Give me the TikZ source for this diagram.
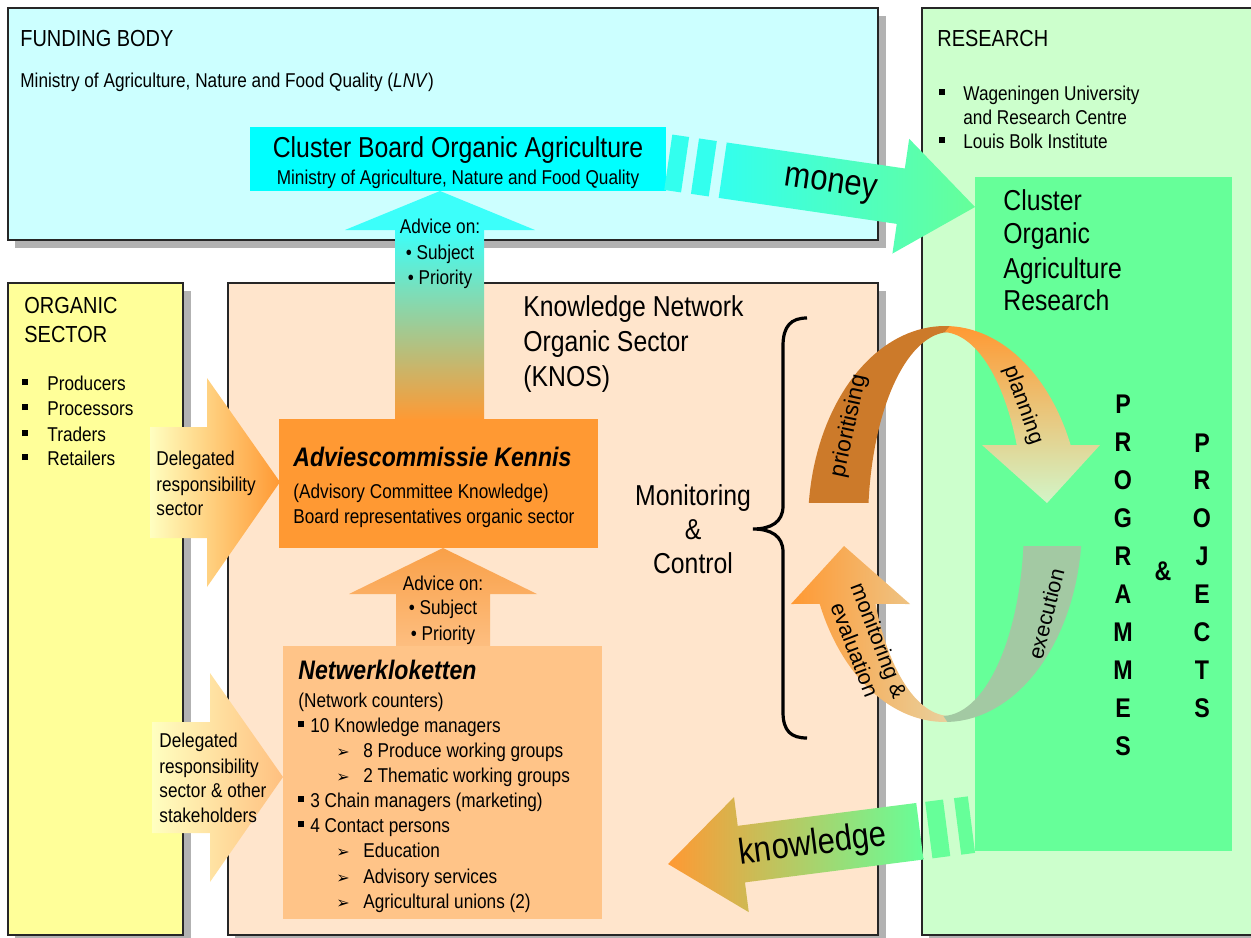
\documentclass[tikz,border=0pt]{standalone}
\usepackage{fontspec}
\setmainfont[FakeStretch=0.86]{Liberation Sans}
\newfontfamily\turnfont{Liberation Sans}
\newfontfamily\dingfont{DejaVu Sans}
\usetikzlibrary{calc}

\definecolor{fundcol}{HTML}{CCFFFF}
\definecolor{rescol}{HTML}{CCFFCC}
\definecolor{orgcol}{HTML}{FFFF99}
\definecolor{knoscol}{HTML}{FFE5CC}
\definecolor{boardcol}{HTML}{00FFFF}
\definecolor{advcol}{HTML}{FF9933}
\definecolor{netcol}{HTML}{FFC488}
\definecolor{clustercol}{HTML}{66FF99}
\definecolor{shadowcol}{HTML}{B2B2B2}
\definecolor{cyanhead}{HTML}{3CFFFA}
\definecolor{cyanmid}{HTML}{AAC8A0}
\definecolor{moneycol}{HTML}{33FFEE}
\definecolor{paleyellow}{HTML}{FFFFC0}
\definecolor{delegtip}{HTML}{FFC080}
\definecolor{advlow}{HTML}{F9A048}
\definecolor{advhigh}{HTML}{FDBE80}
\definecolor{prioricol}{HTML}{CC7A2A}
\definecolor{plancol}{HTML}{D2F5C8}
\definecolor{planmid}{HTML}{F0C080}
\definecolor{execcol}{HTML}{A3C9A3}
\definecolor{moncol}{HTML}{E8D2A0}

\newcommand{\fsnorm}{\fontsize{10}{12.5}\selectfont}
\newcommand{\fshead}{\fontsize{11.6}{14}\selectfont}
\newcommand{\fsbig}{\fontsize{14.4}{17}\selectfont}
\newcommand{\fstitle}{\fontsize{13.4}{16}\selectfont\bfseries\itshape}
\newcommand{\fsflow}{\fontsize{18}{21}\selectfont}
\newcommand{\fsletter}{\fontsize{13.5}{16}\selectfont\bfseries}
\newcommand{\fsturn}{\turnfont\fontsize{10.8}{13}\selectfont}
\newcommand{\sqbullet}{\rule[2.5pt]{3pt}{3pt}}
\newcommand{\arrbullet}{{\dingfont\fontsize{8}{8}\selectfont ➢}}

\tikzset{
  txt/.style={anchor=base west, inner sep=0pt, font=\fsnorm},
  headtxt/.style={txt, font=\fshead},
  bigtxt/.style={txt, font=\fsbig},
  flowtxt/.style={inner sep=0pt, font=\fsflow},
  turntxt/.style={inner sep=0pt, font=\fsturn, align=center},
  letter/.style={anchor=base, inner sep=0pt, font=\fsletter},
  panel/.style={draw=black!85, line width=0.7pt},
  panelshadow/.style={fill=shadowcol},
}

\begin{document}
\begin{tikzpicture}[x=0.5pt, y=-0.5pt]
    \useasboundingbox (0,0) rectangle (1251,937);

    % ---------------- Panels ----------------
    \foreach \xa/\ya/\xb/\yb in {8/8/878/240, 8/283/183/935, 228/283/878/935, 922/8/1262/935}
        \fill[panelshadow] (\xa+7,\ya+8) rectangle (\xb+8,\yb+8);
    \draw[panel, fill=fundcol] (8,8) rectangle (878,240);
    \draw[panel, fill=rescol] (922,8) rectangle (1262,935);
    \draw[panel, fill=orgcol] (8,283) rectangle (183,935);
    \draw[panel, fill=knoscol] (228,283) rectangle (878,935);

    \fill[clustercol] (975,177) rectangle (1232,851);
    \fill[boardcol] (250,127) rectangle (666,191);

    % ---------------- Advice arrows ----------------
    \fill[cyanhead] (345,230) -- (440,191) -- (535,230) -- cycle;
    \shade[top color=cyanhead, middle color=cyanmid, bottom color=advcol] (395,230) rectangle (484,420);
    \fill[advcol] (279,419) rectangle (598,548);
    \shade[top color=advlow, bottom color=advhigh]
        (349,594) -- (443,548) -- (537,594) -- (490,594) -- (490,646) -- (396,646) -- (396,594) -- cycle;
    \fill[netcol] (283,646) rectangle (602,919);

    % ---------------- Delegated arrows ----------------
    \shade[left color=paleyellow, right color=advcol]
        (150,427) -- (207,427) -- (207,378) -- (280,482) -- (207,587) -- (207,538) -- (150,538) -- cycle;
    \shade[left color=paleyellow, right color=delegtip]
        (152,722) -- (210,722) -- (210,673) -- (283,777) -- (210,882) -- (210,833) -- (152,833) -- cycle;

    % ---------------- Money arrow ----------------
    \begin{scope}[shift={(975,207)}, rotate=-8.3]
        \fill[moneycol] (-310,-28) rectangle (-293,28);
        \fill[moneycol] (-283,-28) rectangle (-265,28);
        \shade[left color=moneycol, right color=clustercol]
            (-255,-28) -- (-75,-28) -- (-75,-58) -- (0,0) -- (-75,58) -- (-75,28) -- (-255,28) -- cycle;
        \node[flowtxt, rotate=-8.3] (money) at (-146,0) {money};
    \end{scope}

    % ---------------- Knowledge arrow ----------------
    \begin{scope}[shift={(668,864)}, rotate=7.3]
        \fill[clustercol] (263,-29) rectangle (281,28);
        \fill[clustercol] (292,-29) rectangle (306,28);
        \shade[left color=advcol, right color=clustercol]
            (0,0) -- (74,-58) -- (74,-29) -- (254,-29) -- (254,28) -- (74,28) -- (74,58) -- cycle;
        \node[flowtxt, rotate=7.3] (knowledge) at (146,0) {knowledge};
    \end{scope}

    % ---------------- Cycle ----------------
    \fill[prioricol]
        plot[domain=186.1:272, samples=40, variable=\t] ({945+137*cos(\t)},{524+198*sin(\t)})
        -- plot[domain=272:186.3, samples=40, variable=\t] ({950+82*cos(\t)},{524+192*sin(\t)}) -- cycle;
    \shade[top color=advcol, middle color=planmid, bottom color=plancol]
        plot[domain=272:336.5, samples=30, variable=\t] ({945+137*cos(\t)},{524+198*sin(\t)})
        -- (1100,445) -- (1047,503) -- (982,445)
        -- plot[domain=335.7:272, samples=30, variable=\t] ({942+82*cos(\t)},{524+192*sin(\t)}) -- cycle;
    \shade[left color=advcol, right color=moncol]
        plot[domain=89:155.4, samples=30, variable=\t] ({950+82*cos(\t)},{524+192*sin(\t)})
        -- (910,604) -- (844,546) -- (791,604)
        -- plot[domain=156.2:89, samples=30, variable=\t] ({945+137*cos(\t)},{524+198*sin(\t)}) -- cycle;
    \fill[execcol]
        plot[domain=6.4:89, samples=30, variable=\t] ({945+137*cos(\t)},{524+198*sin(\t)})
        -- plot[domain=89:6.6, samples=30, variable=\t] ({942+82*cos(\t)},{524+192*sin(\t)}) -- cycle;

    \node[turntxt, font=\fsturn\fontsize{11.4}{13}\selectfont, rotate=77.8] (prio) at (849,426) {prioritising};
    \node[turntxt, rotate=-70.4] (plan) at (1023,405) {planning};
    \node[turntxt, rotate=76] (exec) at (1046,614) {execution};
    \node[turntxt, rotate=-69] (moni) at (867,645) {monitoring \&\\evaluation};

    % ---------------- Brace ----------------
    \draw[line width=1.6pt] (807,318) .. controls (791,318) and (783,326) .. (783,346)
        -- (783,506) .. controls (783,522) and (771,529) .. (753,529)
        .. controls (771,529) and (783,536) .. (783,552)
        -- (783,712) .. controls (783,731) and (791,738) .. (807,738);
    \foreach \y/\line [count=\i] in {505/Monitoring, 539/\&, 573/Control}
        \node[bigtxt, anchor=base] (mc-\i) at (693,\y) {\line};

    % ---------------- Funding body ----------------
    \node[headtxt] (fundtitle) at (20,46) {FUNDING BODY};
    \node[txt] (fundmin) at (20,87) {Ministry of Agriculture, Nature and Food Quality (\textit{LNV})};
    \node[bigtxt, anchor=base] (boardtitle) at (458,157) {Cluster Board Organic Agriculture};
    \node[txt, anchor=base] (boardmin) at (458,184) {Ministry of Agriculture, Nature and Food Quality};
    \foreach \y/\line [count=\i] in {233/Advice on:, 259/• Subject, 284/• Priority}
        \node[txt, anchor=base] (advup-\i) at (440,\y) {\line};

    % ---------------- Research ----------------
    \node[headtxt] (restitle) at (937,46) {RESEARCH};
    \node[txt] (resb-1) at (939,100) {\sqbullet};
    \node[txt] (resb-2) at (939,148) {\sqbullet};
    \foreach \y/\line [count=\i] in {100/Wageningen University, 124/and Research Centre, 148/Louis Bolk Institute}
        \node[txt] (res-\i) at (963,\y) {\line};
    \foreach \y/\line [count=\i] in {210/Cluster, 243/Organic, 278/Agriculture, 310/Research}
        \node[bigtxt] (coar-\i) at (1003,\y) {\line};
    \foreach \ch [count=\i from 0] in {P,R,O,G,R,A,M,M,E,S}
        \node[letter] (prog-\i) at (1123,{413+38*\i}) {\ch};
    \node[letter] (amp) at (1163,580) {\&};
    \foreach \ch [count=\i from 0] in {P,R,O,J,E,C,T,S}
        \node[letter] (proj-\i) at (1202,{452+37.9*\i}) {\ch};

    % ---------------- Organic sector ----------------
    \node[headtxt] (orgtitle-1) at (24,313) {ORGANIC};
    \node[headtxt] (orgtitle-2) at (24,342) {SECTOR};
    \foreach \y/\line [count=\i] in {390/Producers, 415/Processors, 441/Traders, 465/Retailers} {
        \node[txt] (orgb-\i) at (22,\y) {\sqbullet};
        \node[txt] (org-\i) at (47,\y) {\line};
    }
    \foreach \y/\line [count=\i] in {465/Delegated, 491/responsibility, 515/sector}
        \node[txt] (delega-\i) at (156,\y) {\line};
    \foreach \y/\line [count=\i] in {747/Delegated, 773/responsibility, 797/sector \& other, 822/stakeholders}
        \node[txt] (delegb-\i) at (159,\y) {\line};

    % ---------------- KNOS ----------------
    \foreach \y/\line [count=\i] in {316/Knowledge Network, 351/Organic Sector, 386/(KNOS)}
        \node[bigtxt] (knos-\i) at (523,\y) {\line};

    \node[txt, font=\fstitle] (advtitle) at (293,466) {Adviescommissie Kennis};
    \node[txt] (adv-1) at (293,498) {(Advisory Committee Knowledge)};
    \node[txt] (adv-2) at (293,523) {Board representatives organic sector};
    \foreach \y/\line [count=\i] in {590/Advice on:, 614/• Subject, 640/• Priority}
        \node[txt, anchor=base] (advlow-\i) at (443,\y) {\line};

    \node[txt, font=\fstitle] (nettitle) at (298,679) {Netwerkloketten};
    \node[txt] (netsub) at (298,707) {(Network counters)};
    \foreach \y/\line [count=\i] in {732/10 Knowledge managers, 807/3 Chain managers (marketing), 832/4 Contact persons} {
        \node[txt] (netsq-\i) at (298,\y) {\sqbullet};
        \node[txt] (netitem-\i) at (310,\y) {\line};
    }
    \foreach \y/\line [count=\i] in {757/8 Produce working groups, 782/2 Thematic working groups, 857/Education, 883/Advisory services, 908/Agricultural unions (2)} {
        \node[txt] (netarr-\i) at (336,\y) {\arrbullet};
        \node[txt] (netsubitem-\i) at (363,\y) {\line};
    }

\end{tikzpicture}
\end{document}
